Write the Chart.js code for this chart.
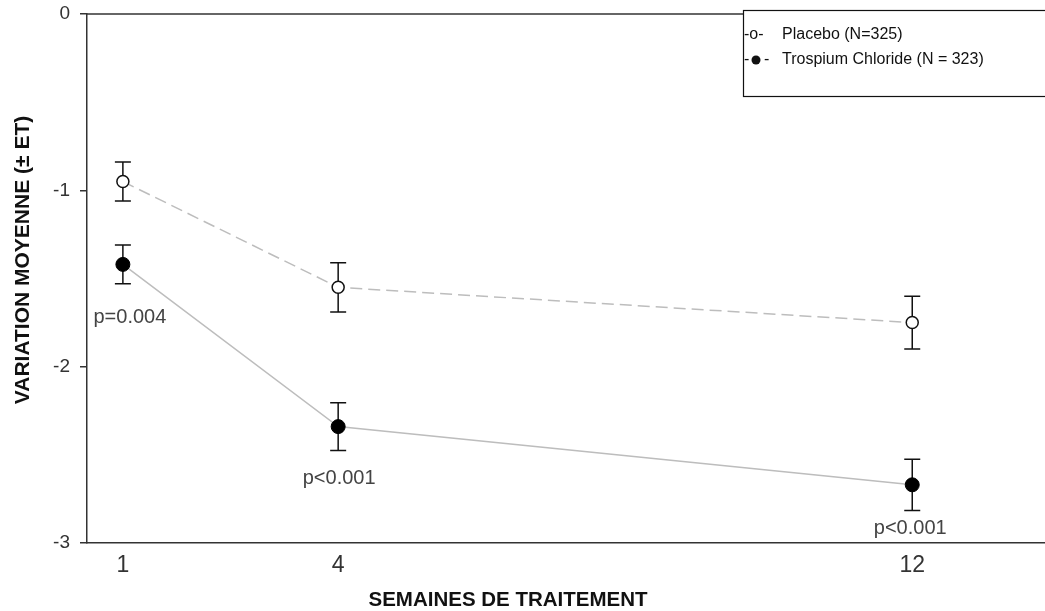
<!DOCTYPE html>
<html>
<head>
<meta charset="utf-8">
<script src="https://cdn.jsdelivr.net/npm/chart.js@4"></script>
<style>
  html, body { margin: 0; background: #fff; }
</style>
</head>
<body>
<canvas id="chart" width="1045" height="611"></canvas>
<script>
// ===== DATA =====
const weeks = [1, 4, 12];
const placebo = [-0.95, -1.55, -1.75];
const placeboErr = [0.11, 0.14, 0.15];
const trospium = [-1.42, -2.34, -2.67];
const trospiumErr = [0.11, 0.135, 0.145];
const pValues = ['p=0.004', 'p<0.001', 'p<0.001'];
const yTicks = [0, -1, -2, -3];
const legendLabels = ['Placebo (N=325)', 'Trospium Chloride (N = 323)'];
const xTitle = 'SEMAINES DE TRAITEMENT';
const yTitle = 'VARIATION MOYENNE (± ET)';

const AXIS = '#333';
const LINE = '#bdbdbd';
const FONT = '"Liberation Sans", Arial, sans-serif';

// error bars under the markers
const errorBars = {
  id: 'errorBars',
  beforeDatasetsDraw(chart) {
    const { ctx, scales: { x, y } } = chart;
    const errs = [placeboErr, trospiumErr];
    ctx.save();
    ctx.strokeStyle = '#111';
    ctx.lineWidth = 1.5;
    chart.data.datasets.forEach((ds, d) => {
      ds.data.forEach((p, i) => {
        const px = x.getPixelForValue(p.x);
        const top = y.getPixelForValue(p.y + errs[d][i]);
        const bot = y.getPixelForValue(p.y - errs[d][i]);
        ctx.beginPath();
        ctx.moveTo(px, top); ctx.lineTo(px, bot);
        ctx.moveTo(px - 8, top); ctx.lineTo(px + 8, top);
        ctx.moveTo(px - 8, bot); ctx.lineTo(px + 8, bot);
        ctx.stroke();
      });
    });
    ctx.restore();
  }
};

// frame top line, titles, p-values, legend box
const extras = {
  id: 'extras',
  afterDraw(chart) {
    const { ctx, chartArea: a, scales: { x, y } } = chart;
    ctx.save();
    ctx.strokeStyle = AXIS;
    ctx.lineWidth = 1.5;
    ctx.beginPath();
    ctx.moveTo(a.left, a.top); ctx.lineTo(a.right, a.top);
    ctx.stroke();

    // axis titles
    ctx.fillStyle = '#111';
    ctx.textAlign = 'center';
    ctx.textBaseline = 'middle';
    ctx.font = 'bold 20.5px ' + FONT;
    ctx.fillText(xTitle, 508, 600);
    ctx.save();
    ctx.translate(23, 260);
    ctx.rotate(-Math.PI / 2);
    ctx.font = 'bold 21px ' + FONT;
    ctx.fillText(yTitle, 0, 0);
    ctx.restore();

    // p-values under trospium points
    const off = [[7, 53], [1, 52], [-2, 44]];
    ctx.fillStyle = '#444';
    ctx.font = '20px ' + FONT;
    pValues.forEach((t, i) => {
      ctx.fillText(t, x.getPixelForValue(weeks[i]) + off[i][0], y.getPixelForValue(trospium[i]) + off[i][1]);
    });

    // legend
    ctx.fillStyle = '#fff';
    ctx.fillRect(743, 10, 310, 87);
    ctx.strokeStyle = '#111';
    ctx.lineWidth = 1.2;
    ctx.strokeRect(743.5, 10.5, 320, 86);
    ctx.fillStyle = '#111';
    ctx.textAlign = 'left';
    ctx.font = '16px ' + FONT;
    ctx.fillText('-o-', 744, 35);
    ctx.fillText(legendLabels[0], 782, 35);
    ctx.fillText('-', 744, 60);
    ctx.beginPath();
    ctx.arc(756, 60, 4.5, 0, Math.PI * 2);
    ctx.fill();
    ctx.fillText('-', 764, 60);
    ctx.fillText(legendLabels[1], 782, 60);
    ctx.restore();
  }
};

const toXY = arr => arr.map((v, i) => ({ x: weeks[i], y: v }));

new Chart(document.getElementById('chart'), {
  type: 'line',
  data: {
    datasets: [
      {
        label: legendLabels[0],
        data: toXY(placebo),
        borderColor: LINE,
        borderWidth: 1.5,
        borderDash: [12, 6],
        pointRadius: 6,
        pointBackgroundColor: '#fff',
        pointBorderColor: '#111',
        pointBorderWidth: 1.5
      },
      {
        label: legendLabels[1],
        data: toXY(trospium),
        borderColor: LINE,
        borderWidth: 1.5,
        pointRadius: 7,
        pointBackgroundColor: '#000',
        pointBorderColor: '#000',
        pointBorderWidth: 1
      }
    ]
  },
  options: {
    responsive: false,
    animation: false,
    layout: { autoPadding: false, padding: { top: 14, right: 0, left: 0, bottom: 0 } },
    plugins: { legend: { display: false }, tooltip: { enabled: false } },
    scales: {
      x: {
        type: 'linear',
        min: 0.5,
        max: 13.85,
        afterBuildTicks: s => { s.ticks = weeks.map(v => ({ value: v })); },
        afterFit: s => { s.height = 68; s.paddingLeft = 0; s.paddingRight = 0; },
        grid: { display: false, drawTicks: false },
        border: { color: AXIS, width: 1.5 },
        ticks: { color: '#333', padding: 9, font: { family: 'Liberation Sans', size: 23 } }
      },
      y: {
        min: -3,
        max: 0,
        afterBuildTicks: s => { s.ticks = yTicks.map(v => ({ value: v })); },
        afterFit: s => { s.width = 87; s.paddingTop = 0; s.paddingBottom = 0; },
        grid: { drawOnChartArea: false, tickLength: 7, color: AXIS, lineWidth: 1.5 },
        border: { color: AXIS, width: 1.5 },
        ticks: { color: '#333', padding: 10, font: { family: 'Liberation Sans', size: 19 } }
      }
    }
  },
  plugins: [errorBars, extras]
});
</script>
</body>
</html>
